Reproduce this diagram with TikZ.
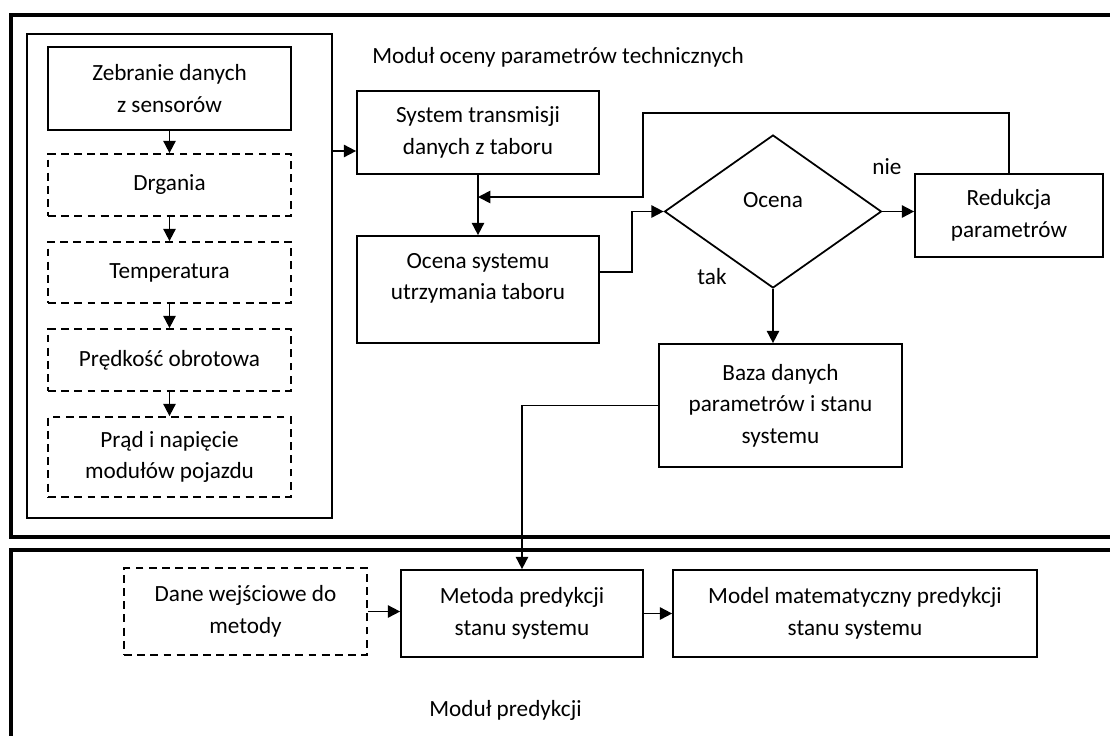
\documentclass[tikz,border=0pt]{standalone}
\usepackage{fontspec}
\setmainfont{Carlito}
\usetikzlibrary{arrows.meta,shapes.geometric}

\tikzset{
  tekst/.style={font=\fontsize{13.2}{18}\selectfont},
  blok/.style={tekst,draw,line width=1pt,align=center,inner sep=2pt},
  blokp/.style={blok,dash pattern=on 4.5pt off 3pt},
  ramka/.style={line width=2.2pt},
  napis/.style={tekst,inner sep=0pt},
  strz/.style={-{Triangle[length=7pt,width=7pt]},line width=1pt}
}

\begin{document}
\begin{tikzpicture}[x=0.02cm,y=-0.02cm]
	\useasboundingbox (0,0) rectangle (1110,735);
	\clip (0,0) rectangle (1110,735);
	% ramki modulow
	\draw[ramka] (11,15) rectangle (1130,537);
	\draw[ramka] (11,550) rectangle (1130,760);
	\node[napis,anchor=west] (modOcena) at (372,57) {Moduł oceny parametrów technicznych};
	\node[napis,anchor=west] (modPred) at (429,710) {Moduł predykcji};
	
	% czujniki
	\node[draw,line width=1pt,minimum width=6.1cm,minimum height=9.68cm] (czujniki) at (179.5,276) {};
	\node[blok,minimum width=4.86cm,minimum height=1.66cm] (zebranie) at (169.5,88.5) {Zebranie danych\\z sensorów};
	\node[blokp,minimum width=4.86cm,minimum height=1.24cm] (drgania) at (169.5,185) {Drgania};
	\node[blokp,minimum width=4.86cm,minimum height=1.22cm] (temp) at (169.5,272.5) {Temperatura};
	\node[blokp,minimum width=4.86cm,minimum height=1.24cm] (predkosc) at (169.5,360) {Prędkość obrotowa};
	\node[blokp,minimum width=4.86cm,minimum height=1.6cm] (prad) at (169.5,457) {Prąd i napięcie\\modułów pojazdu};
	\draw[strz] (zebranie) -- (drgania);
	\draw[strz] (drgania) -- (temp);
	\draw[strz] (temp) -- (predkosc);
	\draw[strz] (predkosc) -- (prad);
	
	% ocena
	\node[blok,minimum width=4.84cm,minimum height=1.66cm] (transmisja) at (478,132.5) {System transmisji\\danych z taboru};
	\node[draw,line width=1pt,minimum width=4.84cm,minimum height=2.14cm] (ocenaSys) at (478,289.5) {};
	\node[tekst,align=center,inner sep=0pt] (ocenaSysTxt) at (478,278.5) {Ocena systemu\\utrzymania taboru};
	\node[draw,line width=1pt,diamond,inner sep=0pt,minimum width=4.34cm,minimum height=3.06cm] (decyzja) at (773,211.5) {};
	\node[napis] (decyzjaTxt) at (773,200) {Ocena};
	\node[blok,minimum width=3.76cm,minimum height=1.66cm] (redukcja) at (1009,215.5) {Redukcja\\parametrów};
	\node[blok,minimum width=4.86cm,minimum height=2.46cm] (baza) at (780.5,405.5) {Baza danych\\parametrów i stanu\\systemu};
	\node[napis] (nie) at (887,167) {nie};
	\node[napis] (tak) at (712,277) {tak};
	\coordinate (zwrot) at (643,197);
	
	\draw[strz] ([yshift=-0.37cm]transmisja.west -| czujniki.east) -- ([yshift=-0.37cm]transmisja.west);
	\draw[strz] (transmisja) -- (ocenaSys);
	\draw[strz] ([yshift=0.35cm]ocenaSys.east) -- ++(32,0) |- (decyzja.west);
	\draw[strz] (decyzja.east) -- (decyzja.east -| redukcja.west);
	\draw[strz] (redukcja.north) -- ++(0,-60) -| (zwrot) -- (zwrot -| transmisja.south);
	\draw[strz] (decyzja.south) -- (decyzja.south |- baza.north);
	
	% predykcja
	\node[blokp,minimum width=4.86cm,minimum height=1.74cm] (dane) at (245.5,611.5) {Dane wejściowe do\\metody};
	\node[blok,minimum width=4.84cm,minimum height=1.74cm] (metoda) at (522,613.5) {Metoda predykcji\\stanu systemu};
	\node[blok,minimum width=7.28cm,minimum height=1.74cm] (model) at (855,613.5) {Model matematyczny predykcji\\stanu systemu};
	\draw[strz] (baza.west) -| (metoda.north);
	\draw[strz] (dane.east) -- (dane.east -| metoda.west);
	\draw[strz] (metoda.east) -- (metoda.east -| model.west);
\end{tikzpicture}
\end{document}
